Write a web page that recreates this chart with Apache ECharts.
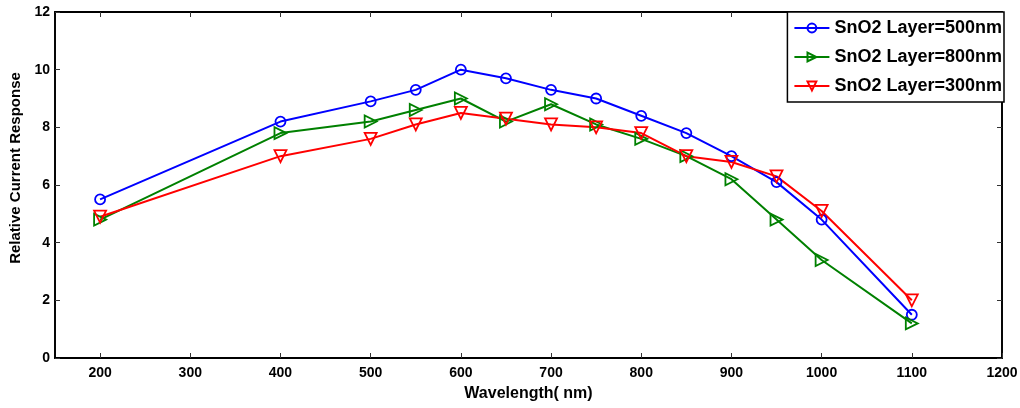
<!DOCTYPE html>
<html><head><meta charset="utf-8">
<script src="https://cdn.jsdelivr.net/npm/echarts@6/dist/echarts.min.js"></script>
<style>html,body{margin:0;padding:0;background:#fff}#c{width:1020px;height:408px}</style>
</head><body><div id="c"></div>
<script>
const wavelengths = [200, 400, 500, 550, 600, 650, 700, 750, 800, 850, 900, 950, 1000, 1100];
const layer500 = [5.5, 8.2, 8.9, 9.3, 10.0, 9.7, 9.3, 9.0, 8.4, 7.8, 7.0, 6.1, 4.8, 1.5];
const layer800 = [4.8, 7.8, 8.2, 8.6, 9.0, 8.2, 8.8, 8.1, 7.6, 7.0, 6.2, 4.8, 3.4, 1.2];
const layer300 = [4.9, 7.0, 7.6, 8.1, 8.5, 8.3, 8.1, 8.0, 7.8, 7.0, 6.8, 6.3, 5.1, 2.0];
const xTicks = [200, 300, 400, 500, 600, 700, 800, 900, 1000, 1100, 1200];
const seriesNames = ['SnO2 Layer=500nm', 'SnO2 Layer=800nm', 'SnO2 Layer=300nm'];

const font = '"Liberation Sans", Arial, sans-serif';
const pairs = v => wavelengths.map((w, i) => [w, v[i]]);
const chart = echarts.init(document.getElementById('c'));
const axisLine = {show: true, onZero: false, lineStyle: {color: '#000', width: 1.8}};
const tick = {show: true, inside: true, length: 5, lineStyle: {color: '#333', width: 1}};
const mkSeries = (name, data, color, symbol, size, rot) => ({
  name, type: 'line', data: pairs(data), symbol, symbolSize: size,
  symbolRotate: rot, showAllSymbol: true, color,
  lineStyle: {color, width: 2},
  itemStyle: {color: 'rgba(255,255,255,0)', borderColor: color, borderWidth: 1.8}
});
chart.setOption({
  animation: false,
  backgroundColor: '#fff',
  grid: {left: 55, right: 18, top: 12, bottom: 50, show: true, borderColor: '#000', borderWidth: 1.5,
    containLabel: false, outerBoundsMode: 'none'},
  legend: {
    right: 16, top: 12, orient: 'vertical', itemGap: 11, itemWidth: 35, itemHeight: 11,
    backgroundColor: '#fff', borderColor: '#000', borderWidth: 1.5, padding: [7, 2, 7, 6],
    textStyle: {fontFamily: font, fontWeight: 'bold', fontSize: 18, color: '#000'},
    data: seriesNames
  },
  xAxis: [
    {type: 'value', min: 150, max: 1200, position: 'bottom', axisLine, splitLine: {show: false},
      axisTick: Object.assign({customValues: xTicks}, tick),
      axisLabel: {customValues: xTicks, formatter: v => String(v), fontFamily: font, fontWeight: 'bold', fontSize: 14, color: '#000', margin: 8},
      name: 'Wavelength( nm)', nameLocation: 'middle', nameGap: 28,
      nameTextStyle: {fontFamily: font, fontWeight: 'bold', fontSize: 16, color: '#000'}},
    {type: 'value', min: 150, max: 1200, position: 'top', axisLine, splitLine: {show: false},
      axisTick: Object.assign({customValues: xTicks}, tick), axisLabel: {show: false}}
  ],
  yAxis: [
    {type: 'value', min: 0, max: 12, interval: 2, position: 'left', axisLine, axisTick: tick, splitLine: {show: false},
      axisLabel: {fontFamily: font, fontWeight: 'bold', fontSize: 14, color: '#000', margin: 5},
      name: 'Relative Current Response', nameLocation: 'middle', nameGap: 27,
      nameTextStyle: {fontFamily: font, fontWeight: 'bold', fontSize: 15, color: '#000', padding: [0, 0, 0, 34]}},
    {type: 'value', min: 0, max: 12, interval: 2, position: 'right', axisLine, axisTick: tick, splitLine: {show: false},
      axisLabel: {show: false}}
  ],
  series: [
    mkSeries(seriesNames[0], layer500, '#0000ff', 'circle', 10, 0),
    mkSeries(seriesNames[1], layer800, '#008000', 'triangle', 12, -90),
    mkSeries(seriesNames[2], layer300, '#ff0000', 'triangle', 12, 180)
  ]
});
</script></body></html>
